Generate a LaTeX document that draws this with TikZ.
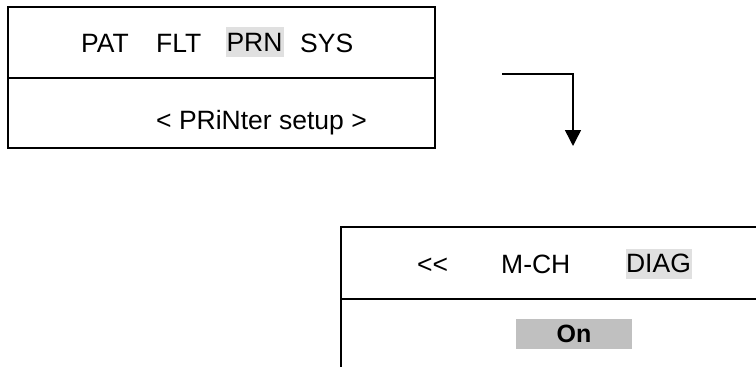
\documentclass[tikz,border=0pt]{standalone}
\usepackage{fontspec}
\setmainfont{Liberation Sans}
\usetikzlibrary{arrows.meta}
\definecolor{selgray}{HTML}{E0E0E0}
\definecolor{ongray}{HTML}{C0C0C0}
\tikzset{
  scr/.style={line width=1.7pt},
  key/.style={font=\fontsize{26.5}{32}\selectfont, inner sep=0pt, anchor=base west},
  keysel/.style={font=\fontsize{26.5}{32}\selectfont, inner sep=0pt, fill=selgray,
                 minimum height=30pt},
  keyon/.style={font=\bfseries\fontsize{25}{30}\selectfont, inner sep=0pt, fill=ongray,
                minimum width=116pt, minimum height=30pt},
  turnarrow/.style={-{Triangle[length=16pt, width=16pt]}, line width=1.5pt}
}

\begin{document}
\begin{tikzpicture}[x=1pt, y=-1pt]
\useasboundingbox (0,0) rectangle (756,367);
\clip (0,0) rectangle (756,367);
% printer menu
\draw[scr] (8,7) rectangle (435,148);
\draw[scr] (8,78) -- (435,78);
\node[key] (pat) at (81,52) {PAT};
\node[key] (flt) at (156,52) {FLT};
\node[keysel, minimum width=58pt] (prn) at (254.5,42) {PRN};
\node[key] (sys) at (300,52) {SYS};
\node[key] (prnset) at (156,129) {< PRiNter setup >};
% step down
\coordinate (turnfrom) at (502,74);
\coordinate (turnto) at (573,146);
\draw[turnarrow] (turnfrom) -| (turnto);
% diag menu
\draw[scr] (341,227) rectangle (790,400);
\draw[scr] (341,299) -- (790,299);
\node[key] (back) at (417,273) {<{}<};
\node[key] (mch) at (501,273) {M-CH};
\node[keysel, minimum width=66pt] (diag) at (658.5,263.5) {DIAG};
\node[keyon] (on) at (574,334) {On};
\end{tikzpicture}
\end{document}
